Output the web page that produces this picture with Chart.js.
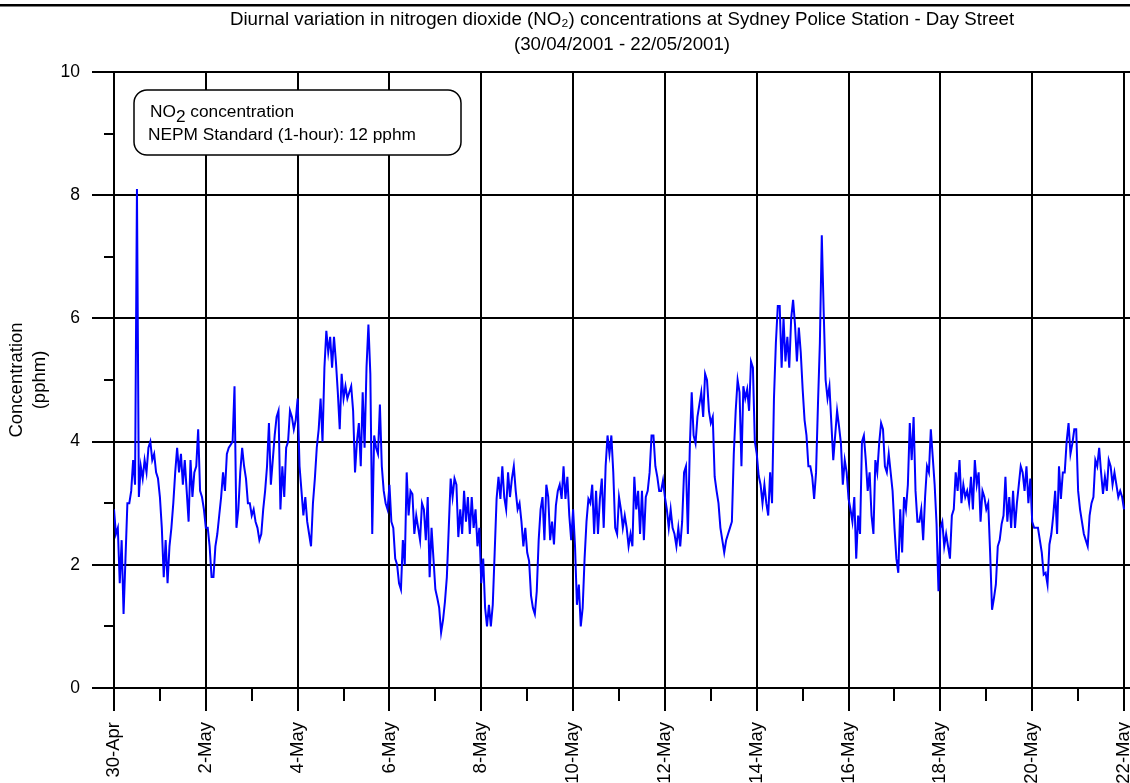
<!DOCTYPE html>
<html>
<head>
<meta charset="utf-8">
<script src="https://cdn.jsdelivr.net/npm/chart.js@4"></script>
<style>
html,body{margin:0;padding:0;background:#fff;}
#wrap{width:1130px;height:783px;position:relative;}
</style>
</head>
<body>
<div id="wrap"><canvas id="c" width="1130" height="783"></canvas></div>
<script>
// ---------- data ----------
const titleLines = [
  'Diurnal variation in nitrogen dioxide (NO\u2082) concentrations at Sydney Police Station - Day Street',
  '(30/04/2001 - 22/05/2001)'
];
const yTitleLines = ['Concentration', '(pphm)'];
const xTickLabels = ['30-Apr','2-May','4-May','6-May','8-May','10-May','12-May','14-May','16-May','18-May','20-May','22-May'];
const yTickStep = 2;
const hoursPerDay = 24;
const seriesLabel = 'NO2 concentration';
const nepmStandard = 12; // pphm, 1-hour standard (above the plotted range)

// hourly NO2 (pphm) from 30/04/2001 00:00, one row per day
const no2Hourly = [
  2.9,2.5,2.6,1.7,2.4,1.2,2.1,3.0,3.0,3.2,3.7,3.3,8.1,3.1,3.6,3.4,3.7,3.5,3.9,4.0,3.7,3.8,3.5,3.4,
  3.1,2.6,1.8,2.4,1.7,2.3,2.6,3.0,3.5,3.9,3.5,3.8,3.3,3.7,3.2,2.7,3.7,3.1,3.5,3.6,4.2,3.2,3.1,2.9,
  2.6,2.6,2.3,1.8,1.8,2.3,2.5,2.8,3.1,3.5,3.2,3.8,3.9,3.95,4.0,4.9,2.6,2.9,3.5,3.9,3.6,3.4,3.0,3.0,
  2.8,2.9,2.7,2.6,2.4,2.5,2.9,3.2,3.6,4.3,3.3,3.7,4.1,4.4,4.5,2.9,3.6,3.1,3.9,4.0,4.5,4.4,4.2,4.35,
  4.7,3.6,3.2,2.8,3.1,2.7,2.5,2.3,3.0,3.4,3.9,4.2,4.7,4.0,5.2,5.8,5.45,5.7,5.2,5.7,5.3,4.8,4.2,5.1,
  4.7,4.9,4.7,4.8,4.9,4.5,3.5,4.0,4.3,3.6,4.8,3.9,5.2,5.9,5.1,2.5,4.1,3.9,3.8,4.6,3.6,3.2,3.0,2.9,
  3.3,2.7,2.6,2.1,2.0,1.7,1.6,2.4,2.0,3.5,2.8,3.2,3.15,2.5,2.8,2.6,2.4,3.0,2.9,2.4,3.1,1.8,2.6,2.1,
  1.6,1.46,1.3,0.9,1.1,1.4,1.8,2.6,3.4,3.1,3.4,3.3,2.45,2.9,2.5,3.2,2.7,3.1,2.5,3.1,2.6,2.9,2.3,2.6,
  1.7,2.1,1.3,1.0,1.35,1.0,1.35,2.2,3.07,3.43,3.07,3.6,3.1,2.9,3.5,3.1,3.4,3.6,3.2,2.9,3.0,2.7,2.3,2.6,
  2.2,2.06,1.5,1.3,1.2,1.57,2.4,2.9,3.1,2.4,3.3,3.1,2.4,2.7,2.33,2.96,3.2,3.3,3.07,3.6,3.07,3.43,2.8,2.4,
  2.9,2.3,1.35,1.68,1.0,1.3,2.1,2.7,3.07,3.0,3.3,2.5,3.2,2.5,3.07,3.4,2.6,3.6,4.1,3.8,4.1,3.5,2.6,2.5,
  3.1,2.9,2.6,2.8,2.6,2.3,2.5,2.3,3.43,2.9,3.2,2.5,3.2,2.4,3.1,3.2,3.5,4.1,4.1,3.6,3.43,3.2,3.2,3.37,
  3.1,2.9,2.6,2.9,2.6,2.5,2.3,2.6,2.3,2.7,3.5,3.6,2.5,3.9,4.8,4.1,3.97,4.4,4.6,4.8,4.4,5.1,5.0,4.5,
  4.3,4.4,3.43,3.2,3.0,2.6,2.4,2.2,2.4,2.5,2.6,2.7,3.8,4.5,5.0,4.8,3.6,4.9,4.7,4.85,4.5,5.3,5.2,4.0,
  3.8,3.45,3.3,3.0,3.3,3.0,2.8,3.5,3.0,4.7,5.6,6.2,6.2,5.2,6.0,5.3,5.7,5.2,6.0,6.3,5.9,5.3,5.85,5.45,
  4.85,4.35,4.1,3.6,3.6,3.43,3.07,3.5,4.6,5.6,7.35,6.1,5.0,4.7,4.9,4.3,3.7,4.1,4.5,4.25,3.97,3.3,3.7,3.5,
  3.07,2.9,2.7,3.1,2.1,2.8,2.5,4.0,4.1,3.7,3.2,3.5,2.8,2.5,3.7,3.5,3.97,4.3,4.2,3.6,3.5,3.8,3.5,3.2,
  2.6,2.1,1.87,2.9,2.2,3.1,2.9,3.3,4.3,3.7,4.4,3.2,2.7,2.7,2.9,2.4,3.1,3.6,3.5,4.2,3.75,3.3,2.66,1.57,
  2.6,2.7,2.3,2.5,2.3,2.1,2.8,2.9,3.5,3.2,3.7,3.0,3.3,3.1,3.2,3.0,3.43,2.9,3.7,3.3,3.5,2.7,3.2,3.1,
  2.9,3.0,2.2,1.27,1.46,1.68,2.3,2.4,2.66,2.8,3.43,2.7,3.1,2.6,3.2,2.6,3.0,3.3,3.6,3.5,3.2,3.6,3.0,3.4,
  2.7,2.6,2.6,2.6,2.4,2.2,1.84,1.87,1.68,2.33,2.5,2.8,3.2,2.5,3.6,3.07,3.5,3.5,4.0,4.3,3.8,3.97,4.2,4.2,
  3.2,2.9,2.7,2.5,2.4,2.3,2.8,3.0,3.1,3.7,3.6,3.9,3.5,3.15,3.43,3.2,3.7,3.6,3.3,3.5,3.3,3.1,3.2,3.1,
  2.9
];

// ---------- chart ----------
const FONT = '"Liberation Sans", Arial, Helvetica, sans-serif';
const points = no2Hourly.map((v, i) => ({ x: i / hoursPerDay, y: v }));
const lastDay = (xTickLabels.length - 1) * 2;

const decorations = {
  id: 'decorations',
  afterDraw(chart) {
    const ctx = chart.ctx;
    const xs = chart.scales.x, ys = chart.scales.y, a = chart.chartArea;
    ctx.save();
    // minor ticks
    ctx.strokeStyle = '#000';
    ctx.lineWidth = 2;
    ctx.beginPath();
    for (let v = 1; v < ys.max; v += 2) {
      const py = Math.round(ys.getPixelForValue(v));
      ctx.moveTo(a.left - 10, py); ctx.lineTo(a.left, py);
    }
    for (let d = 1; d < lastDay; d += 2) {
      const px = Math.round(xs.getPixelForValue(d));
      ctx.moveTo(px, a.bottom); ctx.lineTo(px, a.bottom + 13);
    }
    ctx.stroke();
    // top rule
    ctx.fillStyle = '#000';
    ctx.fillRect(0, 4, chart.width, 2.5);
    // legend box
    const bx = 134, by = 90, bw = 327, bh = 65, r = 13;
    ctx.beginPath();
    ctx.moveTo(bx + r, by);
    ctx.lineTo(bx + bw - r, by); ctx.arcTo(bx + bw, by, bx + bw, by + r, r);
    ctx.lineTo(bx + bw, by + bh - r); ctx.arcTo(bx + bw, by + bh, bx + bw - r, by + bh, r);
    ctx.lineTo(bx + r, by + bh); ctx.arcTo(bx, by + bh, bx, by + bh - r, r);
    ctx.lineTo(bx, by + r); ctx.arcTo(bx, by, bx + r, by, r);
    ctx.closePath();
    ctx.fillStyle = '#fff'; ctx.fill();
    ctx.lineWidth = 1.5; ctx.strokeStyle = '#000'; ctx.stroke();
    // legend text
    ctx.fillStyle = '#000';
    ctx.font = '17.3px ' + FONT;
    ctx.textBaseline = 'middle';
    ctx.textAlign = 'left';
    let tx = 150;
    const parts = seriesLabel.split('2');
    ctx.fillText(parts[0], tx, 112); tx += ctx.measureText(parts[0]).width;
    ctx.fillText('2', tx, 117); tx += ctx.measureText('2').width;
    ctx.fillText(parts[1], tx, 112);
    ctx.fillText('NEPM Standard (1-hour): ' + nepmStandard + ' pphm', 148, 135);
    ctx.restore();
  }
};

new Chart(document.getElementById('c'), {
  type: 'line',
  data: {
    datasets: [{
      label: seriesLabel,
      data: points,
      borderColor: '#0000ff',
      borderWidth: 2,
      pointRadius: 0,
      tension: 0,
      fill: false
    }]
  },
  options: {
    responsive: false,
    animation: false,
    devicePixelRatio: 1,
    layout: { padding: 0, autoPadding: false },
    plugins: {
      legend: { display: false },
      tooltip: { enabled: false },
      title: {
        display: true,
        text: titleLines,
        fullSize: false,
        color: '#000',
        font: { family: FONT, size: 18.7, weight: 'normal', lineHeight: 25 / 18.7 },
        padding: { top: 7.5, bottom: 14.5 }
      }
    },
    scales: {
      x: {
        type: 'linear',
        min: 0,
        max: lastDay + 0.13,
        border: { color: '#000', width: 2 },
        grid: { color: '#000', lineWidth: 2, tickLength: 23, tickColor: '#000', tickWidth: 2 },
        ticks: {
          stepSize: 2,
          includeBounds: false,
          autoSkip: false,
          minRotation: 90,
          maxRotation: 90,
          padding: 11,
          color: '#000',
          font: { family: FONT, size: 18.5 },
          callback: (v) => xTickLabels[Math.round(v / 2)]
        },
        afterFit(scale) { scale.height = 95; scale.paddingLeft = 0; scale.paddingRight = 0; }
      },
      y: {
        type: 'linear',
        min: 0,
        max: 10,
        border: { color: '#000', width: 2 },
        grid: { color: '#000', lineWidth: 2, tickLength: 22, tickColor: '#000', tickWidth: 2 },
        ticks: {
          stepSize: yTickStep,
          padding: 12,
          color: '#000',
          font: { family: FONT, size: 17.5 }
        },
        title: {
          display: true,
          text: yTitleLines,
          color: '#000',
          font: { family: FONT, size: 18.5, lineHeight: 23 / 18.5 },
          padding: { top: 5.5, bottom: 0 }
        },
        afterFit(scale) { scale.width = 114; }
      }
    }
  },
  plugins: [decorations]
});
</script>
</body>
</html>
